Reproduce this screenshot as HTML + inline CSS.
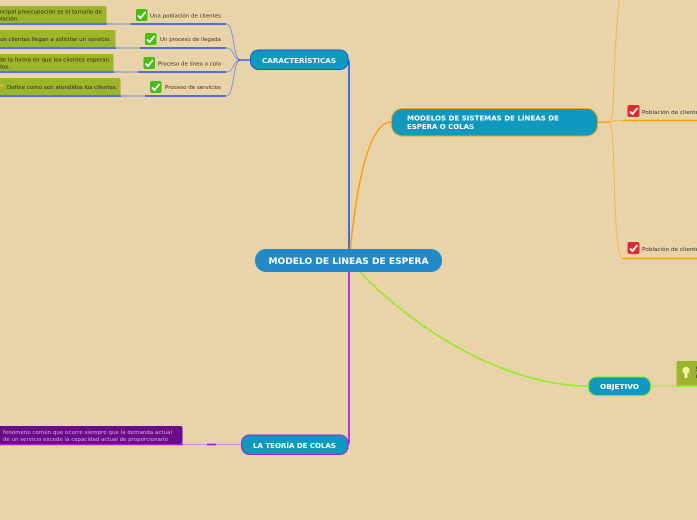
<!DOCTYPE html>
<html>
<head>
<meta charset="utf-8">
<style>
html,body{margin:0;padding:0;background:#e8d4a8;}
svg{display:block;font-family:"DejaVu Sans","Liberation Sans",sans-serif;}
.n{font-weight:bold;fill:#fff;font-size:7px;}
.l{fill:#333325;font-size:5.4px;}
.b{fill:#26290f;font-size:5.55px;}
</style>
</head>
<body>
<svg width="697" height="520" viewBox="0 0 697 520" xmlns="http://www.w3.org/2000/svg">
<defs>
<g id="chk"><path d="M2.5 6.5 L5 9 L10 3" fill="none" stroke="#fff" stroke-width="1.8"/></g>
</defs>
<rect width="697" height="520" fill="#e8d4a8"/>

<!-- main connectors -->
<path d="M348 60 Q349 60 349 64 L349 260" fill="none" stroke="#1a5cf5" stroke-width="1.7"/>
<path d="M349 260 L349 441 Q349 445 347 445" fill="none" stroke="#b01af0" stroke-width="1.7"/>
<path d="M350 252 C356 190 368 122 391 122" fill="none" stroke="#fb9f10" stroke-width="1.5"/>
<path d="M358 270 C420 335 510 386 588 386" fill="none" stroke="#8cf01a" stroke-width="1.5"/>

<!-- characteristics branches -->
<g fill="none" stroke="#7f98dc" stroke-width="1">
<path d="M226 24 C235 24 232 60 241 60"/>
<path d="M226 48 C235 48 232 60 241 60"/>
<path d="M226 72 C235 72 232 60 241 60"/>
<path d="M226 96 C235 96 232 60 241 60"/>
</g>
<path d="M238 60 L250 60" stroke="#3a68f0" stroke-width="1.6"/>
<g stroke-width="1.4">
<path d="M0 24 H107 M131 24 H226 M0 48 H116 M140 48 H226 M0 72 H114 M138 72 H226 M0 96 H121 M145 96 H226" stroke="#1450f5"/>
<path d="M107 24 H131 M116 48 H140 M114 72 H138 M121 96 H145" stroke="#93a3c4"/>
</g>

<!-- left green boxes -->
<g fill="#9db52c">
<rect x="-6" y="6" width="112.5" height="17.5" rx="2"/>
<rect x="-6" y="30" width="121.5" height="17.5" rx="2"/>
<rect x="-6" y="54" width="119.5" height="17.5" rx="2"/>
<rect x="-6" y="78" width="126.5" height="17.5" rx="2"/>
</g>
<text class="b" x="102" y="13.5" text-anchor="end">La principal preocupación es el tamaño de</text>
<text class="b" x="19" y="20.5" text-anchor="end">la población.</text>
<text class="b" x="111" y="41" text-anchor="end">Los clientes llegan a solicitar un servicio.</text>
<text class="b" x="109" y="61.5" text-anchor="end">Se trata de la forma en que los clientes esperan</text>
<text class="b" x="10" y="68.5" text-anchor="end">ser atendidos.</text>
<path d="M0 84.5 H4 L1 88 Z" fill="#e8b840"/>
<text class="b" x="7" y="89">Define como son atendidos los clientes.</text>

<!-- green checks -->
<g>
<rect x="136" y="9" width="11.5" height="12" rx="2" fill="#47c00c"/><use href="#chk" x="135.5" y="9"/>
<rect x="145" y="33" width="11.5" height="12" rx="2" fill="#47c00c"/><use href="#chk" x="144.5" y="33"/>
<rect x="143.5" y="57" width="11.5" height="12" rx="2" fill="#47c00c"/><use href="#chk" x="143" y="57"/>
<rect x="150" y="81" width="11.5" height="12" rx="2" fill="#47c00c"/><use href="#chk" x="149.5" y="81"/>
</g>
<text class="l" x="221" y="17.5" text-anchor="end" textLength="71" lengthAdjust="spacingAndGlyphs">Una población de clientes</text>
<text class="l" x="221" y="41" text-anchor="end" textLength="61" lengthAdjust="spacingAndGlyphs">Un proceso de llegada</text>
<text class="l" x="221" y="65.5" text-anchor="end" textLength="63" lengthAdjust="spacingAndGlyphs">Proceso de línea o cola</text>
<text class="l" x="221" y="89" text-anchor="end" textLength="56" lengthAdjust="spacingAndGlyphs">Proceso de servicios</text>

<!-- right orange branches -->
<path d="M598 122 H609" stroke="#fb9f10" stroke-width="1.5"/>
<g fill="none" stroke="#f6b54a" stroke-width="1">
<path d="M609 122 C614 118 613 100 614 80 C615 50 617 20 619.5 0"/>
<path d="M609 122 C612 125 613 140 614 170 C615 210 616 257 623 258.5"/>
<path d="M609 122 C613 121 617 120.5 623 120.5"/>
</g>
<path d="M623 120.5 H697 M623 258.5 H697" stroke="#f9a000" stroke-width="1.5"/>
<rect x="627.5" y="105" width="12" height="12" rx="2" fill="#e02a2e"/><use href="#chk" x="627.5" y="105"/>
<text class="l" x="642" y="114" textLength="60" lengthAdjust="spacingAndGlyphs">Población de clientes</text>
<rect x="627.5" y="242" width="12" height="12" rx="2" fill="#e02a2e"/><use href="#chk" x="627.5" y="242"/>
<text class="l" x="642" y="251" textLength="60" lengthAdjust="spacingAndGlyphs">Población de clientes</text>

<!-- objetivo right -->
<path d="M651 386 H676" stroke="#a8e050" stroke-width="1"/>
<rect x="676.5" y="361" width="30" height="25" rx="2" fill="#9db52c"/>
<path d="M676 386 H697" stroke="#8cf01a" stroke-width="1.4"/>
<circle cx="686" cy="370.5" r="3.6" fill="#fbf3a0"/>
<rect x="684.5" y="374" width="3" height="4" fill="#f3ecc0"/>
<text x="695.5" y="371" font-size="5.7" fill="#2f3315">S</text>
<text x="695.5" y="378" font-size="5.7" fill="#2f3315">e</text>

<!-- teoria left -->
<rect x="-6" y="426" width="188.5" height="18" rx="2" fill="#6a0a8c"/>
<path d="M0 444.5 H183" stroke="#b414dc" stroke-width="1.4"/>
<path d="M183 444.5 H241" stroke="#d78ad0" stroke-width="1"/>
<path d="M207 444.5 H216" stroke="#9a14d8" stroke-width="1.6"/>
<text x="3" y="434" font-size="5.3" fill="#dcb6e4" textLength="169">fenómeno común que ocurre siempre que la demanda actual</text>
<text x="3" y="441" font-size="5.3" fill="#dcb6e4" textLength="165">de un servicio excede la capacidad actual de proporcionarlo</text>

<!-- nodes -->
<rect x="250.5" y="50" width="97.5" height="19.5" rx="8" fill="#1099bf" stroke="#1a55e0" stroke-width="1"/>
<text class="n" x="262" y="63" textLength="74" lengthAdjust="spacingAndGlyphs">CARACTERÍSTICAS</text>

<rect x="391.5" y="108.5" width="206" height="27.5" rx="11" fill="#1099bf" stroke="#f5a21e" stroke-width="1"/>
<text class="n" x="407" y="120.5" textLength="152" lengthAdjust="spacingAndGlyphs">MODELOS DE SISTEMAS DE LÍNEAS DE</text>
<text class="n" x="407" y="129" textLength="67" lengthAdjust="spacingAndGlyphs">ESPERA O COLAS</text>

<rect x="588.5" y="377" width="62" height="18.5" rx="8" fill="#1099bf" stroke="#7fe81a" stroke-width="1"/>
<text class="n" x="600" y="389" textLength="39" lengthAdjust="spacingAndGlyphs">OBJETIVO</text>

<rect x="241.5" y="435" width="106.5" height="19.5" rx="8" fill="#1099bf" stroke="#a020e0" stroke-width="1"/>
<text class="n" x="253" y="448" textLength="83" lengthAdjust="spacingAndGlyphs">LA TEORÍA DE COLAS</text>

<rect x="255" y="249" width="187" height="23" rx="11" fill="#238ac9"/>
<text x="268.5" y="264" font-size="8.8" font-weight="bold" fill="#fff" textLength="160" lengthAdjust="spacingAndGlyphs">MODELO DE LINEAS DE ESPERA</text>
</svg>
</body>
</html>
